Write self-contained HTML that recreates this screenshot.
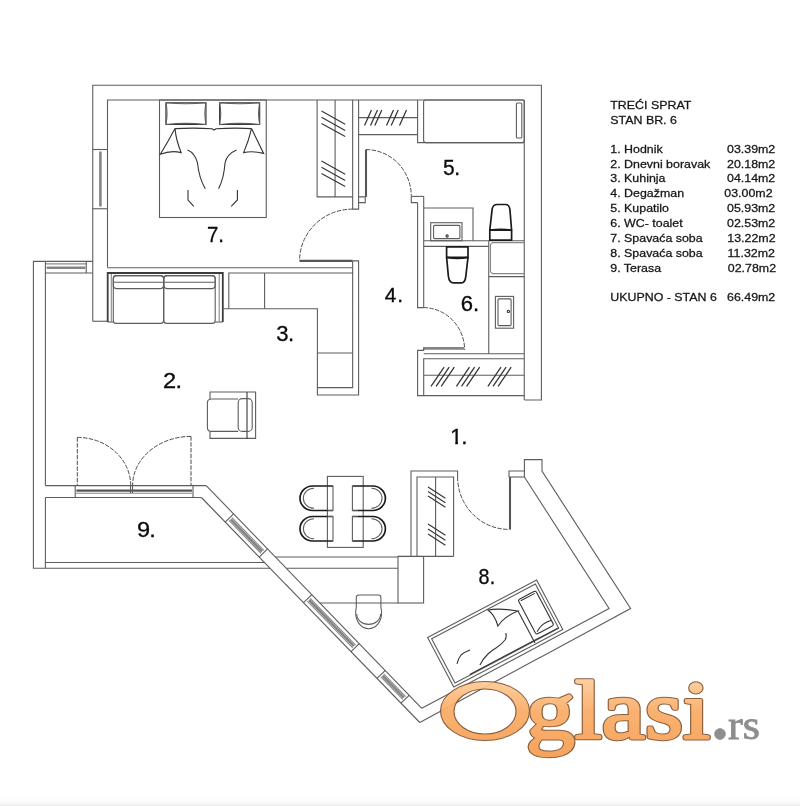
<!DOCTYPE html>
<html><head><meta charset="utf-8"><title>Stan br. 6</title>
<style>
html,body{margin:0;padding:0;background:#fff;}
body{width:800px;height:806px;overflow:hidden;position:relative;font-family:"Liberation Sans",sans-serif;}
svg{position:absolute;left:0;top:0;display:block;}
.plan line,.plan path,.plan rect,.plan circle{fill:none;stroke:#5c5c5c;stroke-width:1.1;}
.plan .dk{stroke:#333;}
.plan .lt{stroke:#888;}
.plan .thick{stroke:#1a1a1a;stroke-width:1.7;stroke-linejoin:round;}
.plan .leaf{stroke:#555;stroke-width:2.1;}
.plan .glass{stroke:#858585;stroke-width:2.6;}
.plan .hat{stroke:#333;stroke-width:1.25;}
.plan .sofa{stroke:#3c3c3c;stroke-width:1.8;}
.plan .dash{stroke-dasharray:4.4 1.4;stroke:#4a4a4a;stroke-width:1;}
svg text{font-family:"Liberation Sans",sans-serif;}
.lab{fill:#0a0a0a;stroke:#0a0a0a;stroke-width:0.3;}
.leg{font-size:11.4px;fill:#161616;stroke:#161616;stroke-width:0.28;}
.logo-o path{fill:url(#og);stroke:#80532f;stroke-width:1.15;stroke-linejoin:round;}
.logo-o .emb{stroke-width:4.4;fill:none;}
.logo-o text{font-family:"Liberation Serif",serif;font-size:82px;stroke-linejoin:round;}
.logo-o text.emb{fill:none;stroke:#80532f;stroke-width:4.4;}
.logo-o text.top{fill:url(#og);stroke:url(#og);stroke-width:2.4;}
.logo-g path,.logo-g circle{fill:#8e8e8e;stroke:#8e8e8e;stroke-width:0.8;}
.logo-g text{font-family:"Liberation Serif",serif;font-size:41px;fill:#8e8e8e;stroke:#8e8e8e;stroke-width:0.8;}
</style></head><body>
<svg width="800" height="806" viewBox="0 0 800 806">
<defs>
<linearGradient id="og" gradientUnits="userSpaceOnUse" x1="0" y1="676" x2="0" y2="765">
<stop offset="0" stop-color="#fdd0a0"/><stop offset="0.4" stop-color="#faac66"/><stop offset="1" stop-color="#f59a4e"/>
</linearGradient>
<linearGradient id="bg" x1="0" y1="0" x2="0" y2="1">
<stop offset="0" stop-color="#ffffff"/><stop offset="0.55" stop-color="#fcfcfc"/><stop offset="0.8" stop-color="#f7f7f7"/><stop offset="1" stop-color="#e8e8e8"/>
</linearGradient>
</defs>
<rect x="0" y="0" width="800" height="806" style="fill:#fff;stroke:none"/>
<rect x="0" y="795" width="800" height="11" style="fill:url(#bg);stroke:none"/>
<g class="plan" opacity="0.995">
<path d="M92.75 321.25 L92.75 85.25 L541.4 85.25 L541.4 400 L524.5 400"/>
<path d="M92.75 321.25 L107.5 321.25"/>
<path d="M107.5 267.6 L107.5 100 L524.25 100"/>
<line x1="524.25" y1="100" x2="524.25" y2="400"/>
<line x1="92.75" y1="149.5" x2="107.5" y2="149.5"/>
<line x1="92.75" y1="208.75" x2="107.5" y2="208.75"/>
<line x1="100.4" y1="151.5" x2="100.4" y2="206.5" class="glass"/>
<line x1="107.5" y1="267.7" x2="352.65" y2="267.7"/>
<path d="M92.75 261.4 L33.4 261.4 L33.4 568.2 L270 568.2"/>
<line x1="286.4" y1="568.2" x2="398" y2="568.2"/>
<line x1="45.4" y1="273" x2="45.4" y2="485.6"/>
<line x1="45.4" y1="497.5" x2="45.4" y2="568.2"/>
<line x1="45.4" y1="263.9" x2="86.25" y2="263.9" class="lt"/>
<line x1="45.4" y1="273" x2="92.75" y2="273"/>
<line x1="86.25" y1="261.4" x2="86.25" y2="273"/>
<line x1="46.6" y1="267.8" x2="85.4" y2="267.8" class="glass"/>
<line x1="45.4" y1="261.4" x2="45.4" y2="273"/>
<rect x="159.5" y="100" width="106.75" height="117.5"/>
<rect x="165.9" y="102.7" width="40.1" height="21.8" rx="1" class="dk"/>
<path d="M165.9 102.7 Q185.95 104.9 206 102.7 Q203.8 113.6 206 124.5 Q185.95 122.3 165.9 124.5 Q168.1 113.6 165.9 102.7Z"/>
<rect x="219.6" y="102.7" width="40.1" height="21.8" rx="1" class="dk"/>
<path d="M219.6 102.7 Q239.64999999999998 104.9 259.7 102.7 Q257.5 113.6 259.7 124.5 Q239.64999999999998 122.3 219.6 124.5 Q221.79999999999998 113.6 219.6 102.7Z"/>
<path d="M175 128.6 Q195 127.5 212 128.8 L214 130 L216 128.8 Q235 127.5 251.5 128.6" class="dk"/>
<path d="M175 128.6 Q168 142 160.3 154.2 Q171 150 181.2 152.6 Q176 140 175 128.6" class="dk"/>
<path d="M251.5 128.6 Q258 142 263.6 153.4 Q253 150.5 243.6 152.6 Q249 140 251.5 128.6" class="dk"/>
<path d="M187.5 150 Q195 153 197.5 163 Q199 178 205.3 188.8" class="dk"/>
<path d="M236.5 150 Q227 154 225 163 Q224 178 218.6 188.8" class="dk"/>
<path d="M188 190 L188 200 L193.8 206.3" class="dk"/>
<path d="M237.4 190 L237.4 200 L231.2 206.3" class="dk"/>
<path d="M352.65 196.9 L317.1 196.9 L317.1 100"/>
<line x1="335.1" y1="100" x2="335.1" y2="196.9"/>
<line x1="321.5" y1="111.0" x2="345.2" y2="124.2" class="dk"/>
<line x1="321.5" y1="161.0" x2="345.2" y2="174.2" class="dk"/>
<line x1="321.5" y1="117.2" x2="345.2" y2="130.4" class="dk"/>
<line x1="321.5" y1="167.2" x2="345.2" y2="180.39999999999998" class="dk"/>
<line x1="321.5" y1="123.4" x2="345.2" y2="136.6" class="dk"/>
<line x1="321.5" y1="173.4" x2="345.2" y2="186.6" class="dk"/>
<path d="M352.65 100 L352.65 209.1 L358.6 209.1 L358.6 100"/>
<path d="M358.6 196.9 L365.25 196.9 L365.25 202.65 L358.6 202.65"/>
<line x1="366" y1="149.6" x2="366" y2="196.9" class="leaf"/>
<path d="M366 149.6 A45.3 46.8 0 0 1 411.3 196.4" class="dash"/>
<path d="M411.3 196.4 L423.8 196.4"/>
<path d="M411.3 196.4 L411.3 202.65 L417.6 202.65"/>
<path d="M352.65 209.1 A53 51.6 0 0 0 299.6 260.7" class="dash"/>
<line x1="299.6" y1="260.9" x2="352.65" y2="260.9" class="leaf"/>
<path d="M358.6 134.6 L417.6 134.6"/>
<line x1="358.6" y1="117.6" x2="417.6" y2="117.6"/>
<line x1="364.5" y1="125.5" x2="371.5" y2="110" class="hat"/>
<line x1="370.5" y1="125.5" x2="377.5" y2="110" class="hat"/>
<line x1="374.8" y1="125.5" x2="381.8" y2="110" class="hat"/>
<line x1="386.5" y1="125.5" x2="393.5" y2="110" class="hat"/>
<line x1="391.2" y1="125.5" x2="398.2" y2="110" class="hat"/>
<line x1="399.5" y1="125.5" x2="406.5" y2="110" class="hat"/>
<path d="M417.6 100 L417.6 142.6 L524.25 142.6"/>
<rect x="423.6" y="100" width="100.65" height="42.6" rx="2"/>
<rect x="516.4" y="103" width="5.4" height="35" rx="1"/>
<path d="M417.6 202.65 L417.6 307.6 L423.7 307.6"/>
<path d="M423.7 196.4 L423.7 307.6"/>
<line x1="423.7" y1="240.75" x2="524.25" y2="240.75"/>
<line x1="423.7" y1="246.35" x2="488.75" y2="246.35"/>
<path d="M423.7 208 L473 208 L473 240.75"/>
<rect x="430.7" y="222.7" width="31.3" height="18.05"/>
<rect x="433.6" y="225.4" width="26.3" height="13.2" rx="1"/>
<circle cx="447.1" cy="236" r="1.1" class="dk"/>
<path d="M489.8 230.2 L511.6 230.2 L511.6 240.2 L489.8 240.2 Z" class="thick"/>
<path d="M489.8 230.2 L492.1 209.4 Q492.8 204.5 497.2 204.5 L505.6 204.5 Q509.2 204.5 509.9 209.4 L511.6 230.2" class="thick"/>
<path d="M489.8 230.2 Q500.7 228.4 511.6 230.2" class="thick"/>
<path d="M446.6 246.9 L468 246.9 L468 257.4 L446.6 257.4 Z" class="thick"/>
<path d="M446.6 257.4 L448.4 276.4 Q449.2 282.9 453.6 282.9 L461.4 282.9 Q465.1 282.9 465.8 276.4 L468 257.4" class="thick"/>
<path d="M446.6 257.4 Q457.3 259.2 468 257.4" class="thick"/>
<line x1="488.75" y1="240.75" x2="488.75" y2="353.8"/>
<path d="M524.25 242.6 L492.4 242.6 L490.5 244.4 L490.5 271.8 L492.4 273.6 L524.25 273.6" class="lt"/>
<line x1="488.75" y1="276.6" x2="524.25" y2="276.6"/>
<rect x="495.4" y="296.4" width="18.2" height="31.8"/>
<rect x="498" y="298.9" width="13.1" height="26.7" rx="1"/>
<circle cx="508.4" cy="311.4" r="1.1" class="dk"/>
<path d="M423.7 307.6 A41.5 42.4 0 0 1 464.6 350" class="dash"/>
<line x1="423.7" y1="348.4" x2="464.2" y2="348.4" class="glass"/>
<path d="M423.7 347.2 L423.7 350.4 L417.6 350.4 L417.6 395.6 L524.5 395.6"/>
<line x1="423.7" y1="353.8" x2="524.25" y2="353.8"/>
<path d="M524.25 358.8 L423.7 358.8 L423.7 395.6"/>
<line x1="423.7" y1="375.2" x2="524.25" y2="375.2"/>
<line x1="431.0" y1="386.4" x2="444.1" y2="367.1" class="hat"/>
<line x1="436.1" y1="386.4" x2="449.20000000000005" y2="367.1" class="hat"/>
<line x1="441.2" y1="386.4" x2="454.3" y2="367.1" class="hat"/>
<line x1="456.4" y1="386.4" x2="469.5" y2="367.1" class="hat"/>
<line x1="461.5" y1="386.4" x2="474.6" y2="367.1" class="hat"/>
<line x1="466.59999999999997" y1="386.4" x2="479.7" y2="367.1" class="hat"/>
<line x1="487.9" y1="386.4" x2="501.0" y2="367.1" class="hat"/>
<line x1="493.0" y1="386.4" x2="506.1" y2="367.1" class="hat"/>
<line x1="498.09999999999997" y1="386.4" x2="511.2" y2="367.1" class="hat"/>
<path d="M107.7 322 L107.7 273 L222.8 273 L222.8 322" class="sofa"/>
<line x1="107.6" y1="322" x2="113.3" y2="322"/>
<line x1="215.2" y1="322" x2="222.8" y2="322"/>
<line x1="111.3" y1="274" x2="111.3" y2="322" class="lt"/>
<line x1="219.2" y1="274" x2="219.2" y2="322" class="lt"/>
<rect x="113.3" y="275.6" width="50.3" height="47.8" rx="3"/>
<rect x="163.8" y="275.6" width="51.4" height="47.8" rx="3"/>
<rect x="113.3" y="275.6" width="50.3" height="13.0" rx="3"/>
<rect x="163.8" y="275.6" width="51.4" height="13.0" rx="3"/>
<line x1="114" y1="282.2" x2="163" y2="282.2"/>
<line x1="164.4" y1="282.2" x2="214.6" y2="282.2"/>
<path d="M222.8 308.8 L317.4 308.8 L317.4 395 L358.6 395 L358.6 260.9 L352.65 260.9"/>
<path d="M228.8 308.8 L228.8 273 L352.65 273 L352.65 387.6 L317.4 387.6"/>
<line x1="352.65" y1="260.9" x2="352.65" y2="273"/>
<line x1="264.6" y1="273" x2="264.6" y2="308.8"/>
<line x1="317.4" y1="353" x2="352.65" y2="353"/>
<path d="M210 399 L210 392 L255.6 392 L255.6 438.4 L210 438.4 L210 431.4"/>
<line x1="247" y1="392" x2="247" y2="438.4" class="dk"/>
<path d="M238.2 399 L211.4 399 Q207.4 399 207.4 403 L207.4 427.4 Q207.4 431.4 211.4 431.4 L238.2 431.4"/>
<rect x="238.2" y="398.6" width="14.0" height="32.8" rx="4"/>
<line x1="77.3" y1="437.4" x2="77.3" y2="485.6" class="dash"/>
<line x1="191" y1="436.4" x2="191" y2="485.6" class="dash"/>
<path d="M77.3 437.4 A53.4 48.2 0 0 1 130.7 485.6" class="dash"/>
<path d="M191 436.4 A58.4 49.2 0 0 0 132.6 485.6" class="dash"/>
<line x1="45.4" y1="485.6" x2="206.2" y2="485.6"/>
<path d="M75.2 485.6 L75.2 497.5"/>
<path d="M193 485.6 L193 497.5"/>
<line x1="76.4" y1="490.6" x2="192" y2="490.6" class="leaf"/>
<line x1="76" y1="493.2" x2="192.4" y2="493.2" class="lt"/>
<line x1="130.5" y1="485.6" x2="130.5" y2="493"/>
<line x1="132.5" y1="485.6" x2="132.5" y2="493"/>
<line x1="45.4" y1="497.5" x2="201.4" y2="497.5"/>
<line x1="45.4" y1="562.5" x2="264.4" y2="562.5"/>
<path d="M206.2 485.6 L421.8 708.3"/>
<path d="M201.4 497.5 L419.8 722.5"/>
<line x1="275.4" y1="557" x2="398" y2="557"/>
<line x1="320" y1="603" x2="398" y2="603"/>
<rect x="398" y="556.5" width="25.6" height="46.5"/>
<g transform="translate(225.2 522.02) rotate(45.85)"><line x1="0" y1="0" x2="0" y2="-11.6"/><line x1="48.8" y1="0" x2="48.8" y2="-11.6"/><line x1="1.5" y1="-3.9" x2="47.3" y2="-3.9" class="lt"/><line x1="2" y1="-5.9" x2="46.8" y2="-5.9" class="glass"/><line x1="1.5" y1="-7.9" x2="47.3" y2="-7.9" class="lt"/></g>
<g transform="translate(303.5 602.69) rotate(45.85)"><line x1="0" y1="0" x2="0" y2="-11.6"/><line x1="68.2" y1="0" x2="68.2" y2="-11.6"/><line x1="1.5" y1="-3.9" x2="66.7" y2="-3.9" class="lt"/><line x1="2" y1="-5.9" x2="66.2" y2="-5.9" class="glass"/><line x1="1.5" y1="-7.9" x2="66.7" y2="-7.9" class="lt"/></g>
<g transform="translate(377 678.41) rotate(45.85)"><line x1="0" y1="0" x2="0" y2="-11.6"/><line x1="34.5" y1="0" x2="34.5" y2="-11.6"/><line x1="1.5" y1="-3.9" x2="33.0" y2="-3.9" class="lt"/><line x1="2" y1="-5.9" x2="32.5" y2="-5.9" class="glass"/><line x1="1.5" y1="-7.9" x2="33.0" y2="-7.9" class="lt"/></g>
<rect x="327.4" y="476.4" width="35.8" height="71.0"/>
<g transform="translate(300 486)"><path d="M33 0 L12.5 0 A12.5 12.25 0 0 0 12.5 24.5 L33 24.5" class="thick"/><path d="M14 2.2 A10.6 10 0 0 0 14 22.3"/><path d="M27.5 0 L33 0 L33 24.5 L27.5 24.5"/></g>
<g transform="translate(300 516.5)"><path d="M33 0 L12.5 0 A12.5 12.25 0 0 0 12.5 24.5 L33 24.5" class="thick"/><path d="M14 2.2 A10.6 10 0 0 0 14 22.3"/><path d="M27.5 0 L33 0 L33 24.5 L27.5 24.5"/></g>
<g transform="translate(385.4 486) scale(-1 1)"><path d="M33 0 L12.5 0 A12.5 12.25 0 0 0 12.5 24.5 L33 24.5" class="thick"/><path d="M14 2.2 A10.6 10 0 0 0 14 22.3"/><path d="M27.5 0 L33 0 L33 24.5 L27.5 24.5"/></g>
<g transform="translate(385.4 516.5) scale(-1 1)"><path d="M33 0 L12.5 0 A12.5 12.25 0 0 0 12.5 24.5 L33 24.5" class="thick"/><path d="M14 2.2 A10.6 10 0 0 0 14 22.3"/><path d="M27.5 0 L33 0 L33 24.5 L27.5 24.5"/></g>
<path d="M356.3 597.5 Q356.3 595 358.8 595 L378.4 595 Q380.9 595 380.9 597.5 L380.9 607.5 Q381.6 609 381.6 613 A12.95 15.7 0 0 1 355.7 613 Q355.7 609 356.3 607.5 Z"/>
<path d="M356.7 614 A11.95 10.4 0 0 0 380.6 614"/>
<path d="M411 556.4 L411 471 L457.6 471 L457.6 477"/>
<path d="M417 556.4 L417 477 L453.6 477 L453.6 556.4"/>
<line x1="398" y1="556.4" x2="453.6" y2="556.4"/>
<line x1="435.6" y1="477" x2="435.6" y2="556.4"/>
<line x1="428" y1="487.0" x2="445.4" y2="498.2" class="dk"/>
<line x1="428" y1="524" x2="445.4" y2="535.2" class="dk"/>
<line x1="428" y1="491.5" x2="445.4" y2="502.7" class="dk"/>
<line x1="428" y1="529" x2="445.4" y2="540.2" class="dk"/>
<line x1="428" y1="496.0" x2="445.4" y2="507.2" class="dk"/>
<line x1="428" y1="534" x2="445.4" y2="545.2" class="dk"/>
<path d="M457.6 477 A51.4 52.4 0 0 0 509 529.4" class="dash"/>
<line x1="510" y1="477" x2="510" y2="529.6" class="leaf"/>
<path d="M509 477 L509 471 L524.4 471"/>
<line x1="509" y1="477" x2="524.4" y2="477"/>
<path d="M524.4 477 L524.4 459.6 L542 459.6 L542 471 L630.6 608.5 L419.8 722.5"/>
<path d="M524.4 477 L609.1 608.5 L421.8 708.3"/>
<g transform="translate(427.6 637.6) rotate(-27.85)"><rect x="0" y="0" width="123.3" height="56"/><rect x="3" y="3" width="117.3" height="50"/><line x1="20" y1="52.4" x2="120" y2="52.4" class="dk"/><rect x="97.5" y="9" width="20" height="39" rx="2" class="dk"/><path d="M99.5 11 L115.5 11 M99.5 46 Q107 40.5 117 42.5" class="dk"/><path d="M92.4 18.7 L92.4 55" class="dk"/><path d="M66.3 3.8 Q78 7.5 92.3 18.7 Q78 17 67.6 22.6 Q70 12 66.3 3.8 Z" class="dk"/><path d="M71.4 32.5 Q70 37 67.3 38.3 Q61 41 55.6 41.2 Q50 41.5 45.7 42.7 Q38 45 33.5 48.7" class="dk"/><path d="M31.7 30.8 Q26 30 21.4 31 Q17 33 13.7 37" class="dk"/></g>
<text transform="translate(206.95 242.25) scale(0.951 1)" font-size="21.51" class="lab">7<tspan dx="0.06">.</tspan></text>
<text transform="translate(443.11 175.14) scale(0.970 1)" font-size="21.64" class="lab">5<tspan dx="-0.56">.</tspan></text>
<text transform="translate(384.72 302.25) scale(0.989 1)" font-size="21.08" class="lab">4<tspan dx="1.05">.</tspan></text>
<text transform="translate(460.68 311.44) scale(1.033 1)" font-size="21.40" class="lab">6<tspan dx="-0.04">.</tspan></text>
<text transform="translate(276.26 341.44) scale(1.035 1)" font-size="21.40" class="lab">3<tspan dx="-0.62">.</tspan></text>
<text transform="translate(163.11 387.55) scale(1.118 1)" font-size="21.20" class="lab">2<tspan dx="-0.63">.</tspan></text>
<clipPath id="c1"><rect x="445.9" y="422.4" width="40" height="19.32"/><rect x="455.26" y="440.72" width="2.69" height="6"/><rect x="462.40000000000003" y="440.72" width="8" height="6"/></clipPath>
<g clip-path="url(#c1)"><text transform="translate(449.93 444.15) scale(1.002 1)" font-size="22.53" class="lab">1<tspan dx="-1.19">.</tspan></text></g>
<text transform="translate(136.89 536.74) scale(1.081 1)" font-size="21.82" class="lab">9<tspan dx="-0.62">.</tspan></text>
<text transform="translate(478.44 584.24) scale(0.924 1)" font-size="21.33" class="lab">8<tspan dx="0.32">.</tspan></text>
<text transform="translate(610.3 109.20) scale(1.088 1)" class="leg">TREĆI SPRAT</text>
<text transform="translate(610.3 123.85) scale(1.088 1)" class="leg">STAN BR. 6</text>
<text transform="translate(610.3 152.60) scale(1.088 1)" class="leg">1. Hodnik</text>
<text transform="translate(727 152.60) scale(1.088 1)" class="leg">03.39m2</text>
<text transform="translate(610.3 167.50) scale(1.088 1)" class="leg">2. Dnevni boravak</text>
<text transform="translate(727 167.50) scale(1.088 1)" class="leg">20.18m2</text>
<text transform="translate(610.3 182.40) scale(1.088 1)" class="leg">3. Kuhinja</text>
<text transform="translate(727 182.40) scale(1.088 1)" class="leg">04.14m2</text>
<text transform="translate(610.3 197.10) scale(1.088 1)" class="leg">4. Degažman</text>
<text transform="translate(724.3 197.10) scale(1.088 1)" class="leg">03.00m2</text>
<text transform="translate(610.3 212.10) scale(1.088 1)" class="leg">5. Kupatilo</text>
<text transform="translate(727 212.10) scale(1.088 1)" class="leg">05.93m2</text>
<text transform="translate(610.3 226.90) scale(1.088 1)" class="leg">6. WC- toalet</text>
<text transform="translate(727 226.90) scale(1.088 1)" class="leg">02.53m2</text>
<text transform="translate(610.3 241.80) scale(1.088 1)" class="leg">7. Spavaća soba</text>
<text transform="translate(727.3 241.80) scale(1.088 1)" class="leg">13.22m2</text>
<text transform="translate(610.3 256.90) scale(1.088 1)" class="leg">8. Spavaća soba</text>
<text transform="translate(727.6 256.90) scale(1.088 1)" class="leg">11.32m2</text>
<text transform="translate(610.3 271.50) scale(1.088 1)" class="leg">9. Terasa</text>
<text transform="translate(727.8 271.50) scale(1.088 1)" class="leg">02.78m2</text>
<text transform="translate(610.3 300.60) scale(1.088 1)" class="leg">UKUPNO - STAN 6</text>
<text transform="translate(727 300.60) scale(1.088 1)" class="leg">66.49m2</text>
</g>
<g class="logo-o" opacity="0.93">
<text class="emb" x="526" y="738.3" textLength="184" lengthAdjust="spacingAndGlyphs">glasi</text>
<path fill-rule="evenodd" d="M440.5 711 A44.5 29.5 0 1 1 529.5 711 A44.5 29.5 0 1 1 440.5 711 Z M454 711.5 A31 22.5 0 1 0 516 711.5 A31 22.5 0 1 0 454 711.5 Z"/>
<text class="top" x="526" y="738.3" textLength="184" lengthAdjust="spacingAndGlyphs">glasi</text>
</g>
<g class="logo-g">
<circle cx="720" cy="734" r="5.4"/>
<text x="728" y="739.2" textLength="32" lengthAdjust="spacingAndGlyphs">rs</text>
</g>
</svg>
</body></html>
